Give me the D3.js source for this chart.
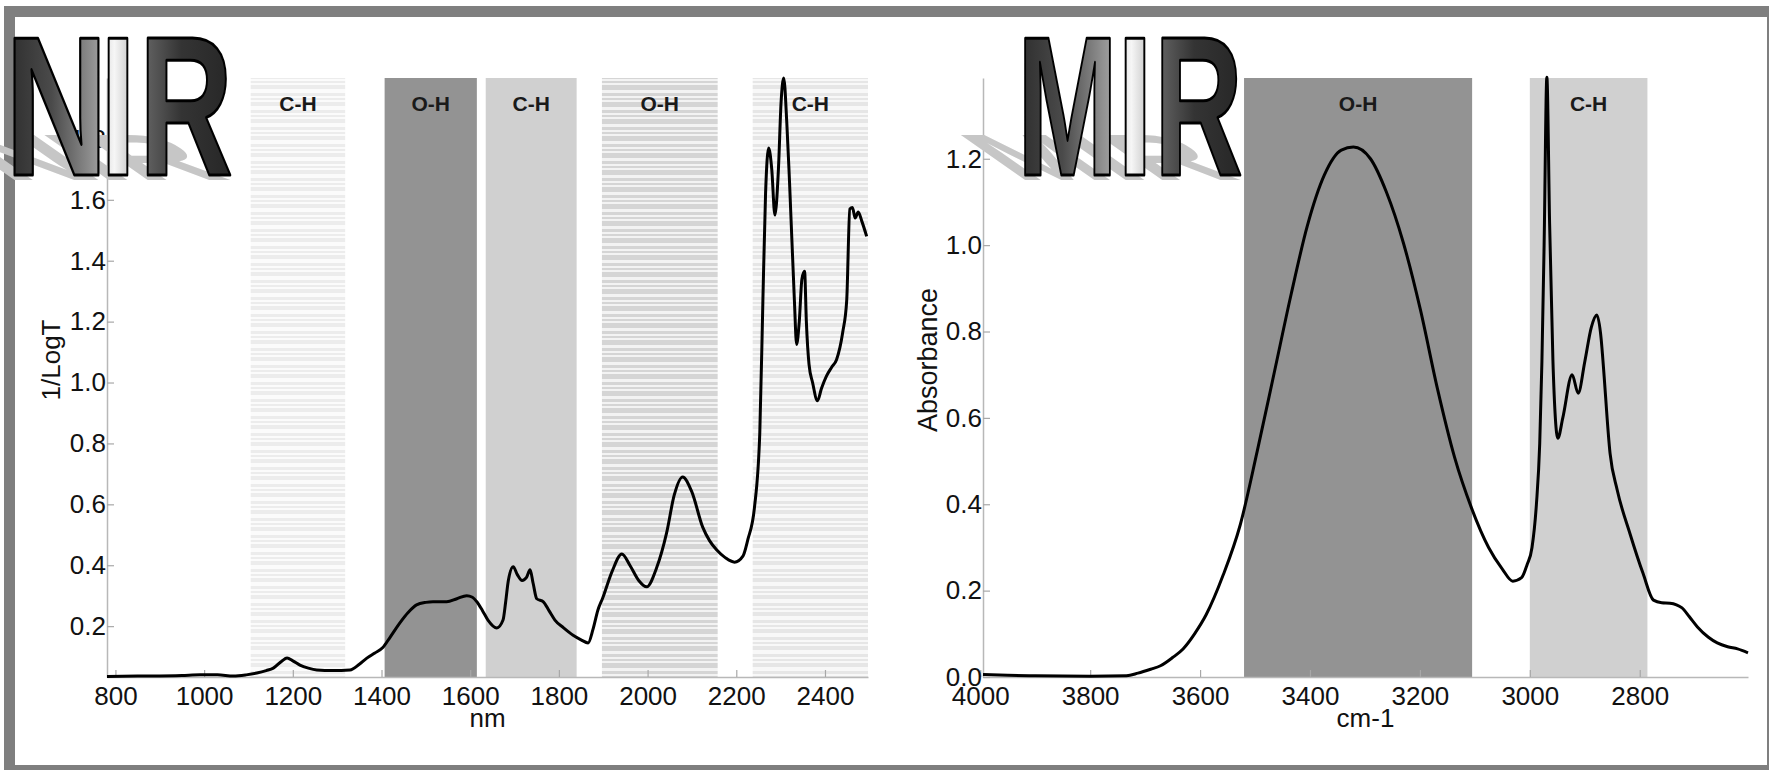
<!DOCTYPE html>
<html lang="en">
<head>
    <meta charset="UTF-8" />
    <title>NIR and MIR spectra</title>
    <script src="https://cdn.jsdelivr.net/npm/d3@7"></script>
    <style>
        body { margin: 0; background: #fff; }
        svg { display: block; }
        text { font-family: "Liberation Sans", Arial, sans-serif; }
    </style>
</head>
<body>
<div id="container"></div>
<script>
    // NIR spectrum (nm, 1/LogT)
    const nirNm = [781, 850, 950, 991, 1030, 1066, 1095, 1119, 1140, 1156, 1175, 1187, 1200, 1216, 1235, 1254, 1290, 1329,
        1350, 1367, 1385, 1403, 1420, 1441, 1460, 1479, 1500, 1516, 1547, 1570, 1592, 1605, 1615, 1628, 1640, 1660,
        1674, 1680, 1686, 1697, 1706, 1717, 1727, 1735, 1742, 1750, 1765, 1778, 1791, 1810, 1832, 1850, 1866, 1877,
        1888, 1899, 1920, 1942, 1960, 1980, 1998, 2020, 2043, 2060, 2079, 2100, 2124, 2140, 2156, 2175, 2196, 2215,
        2226, 2241, 2253, 2260, 2266, 2273, 2280, 2287, 2295, 2301, 2307, 2314, 2320, 2331, 2336, 2342, 2348, 2354,
        2358, 2364, 2372, 2383, 2392, 2403, 2415, 2426, 2440, 2449, 2456, 2462, 2468, 2475, 2483, 2494]
    const nirVal = [0.035, 0.036, 0.038, 0.040, 0.040, 0.036, 0.040, 0.046, 0.054, 0.062, 0.085, 0.095, 0.086, 0.072, 0.062, 0.056, 0.054, 0.056,
        0.075, 0.095, 0.112, 0.13, 0.165, 0.21, 0.245, 0.27, 0.278, 0.28, 0.28, 0.29, 0.30, 0.295, 0.28, 0.25, 0.22, 0.194,
        0.22, 0.28, 0.35, 0.395, 0.37, 0.35, 0.36, 0.385, 0.34, 0.29, 0.28, 0.25, 0.22, 0.195, 0.17, 0.155, 0.145, 0.19,
        0.253, 0.293, 0.38, 0.437, 0.40, 0.35, 0.329, 0.39, 0.507, 0.63, 0.69, 0.64, 0.526, 0.48, 0.45, 0.425, 0.41, 0.43,
        0.484, 0.59, 0.835, 1.27, 1.62, 1.77, 1.70, 1.55, 1.70, 1.92, 2.0, 1.85, 1.66, 1.27, 1.125, 1.20, 1.34, 1.365,
        1.20, 1.06, 1.00, 0.94, 0.98, 1.02, 1.05, 1.075, 1.165, 1.27, 1.57, 1.575, 1.54, 1.56, 1.53, 1.48]

    // MIR spectrum (cm-1, absorbance)
    const mirCm = [3995, 3950, 3900, 3800, 3734, 3713, 3690, 3672, 3650, 3631, 3610, 3589, 3558, 3527, 3496, 3465, 3434,
        3405, 3374, 3343, 3321, 3290, 3261, 3230, 3199, 3168, 3137, 3106, 3075, 3050, 3031, 3015, 3005, 2996, 2988,
        2982, 2978, 2974, 2969, 2964, 2958, 2949, 2940, 2923, 2912, 2900, 2888, 2878, 2870, 2867, 2854, 2841, 2818,
        2794, 2775, 2760, 2745, 2723, 2710, 2695, 2675, 2659, 2640, 2622, 2603]
    const mirAbs = [0.006, 0.004, 0.003, 0.002, 0.003, 0.009, 0.018, 0.026, 0.045, 0.065, 0.10, 0.144, 0.236, 0.352, 0.523, 0.705, 0.888,
        1.044, 1.162, 1.22, 1.227, 1.2, 1.123, 1.005, 0.85, 0.667, 0.509, 0.391, 0.30, 0.25, 0.222, 0.23, 0.26, 0.30, 0.40,
        0.54, 0.73, 1.0, 1.389, 1.05, 0.734, 0.553, 0.60, 0.70, 0.657, 0.73, 0.81, 0.838, 0.78, 0.734, 0.518, 0.433, 0.333,
        0.24, 0.178, 0.172, 0.171, 0.16, 0.14, 0.116, 0.092, 0.079, 0.07, 0.065, 0.056]

    // absorption bands
    const nirBandFrom = [1105, 1407, 1635, 1897, 2237]
    const nirBandTo = [1318, 1615, 1840, 2158, 2497]
    const nirBandLabel = ["C-H", "O-H", "C-H", "O-H", "C-H"]
    const mirBandFrom = [3520, 3000]
    const mirBandTo = [3105, 2786]
    const mirBandLabel = ["O-H", "C-H"]

    // ticks
    const nirXTicks = [800, 1000, 1200, 1400, 1600, 1800, 2000, 2200, 2400]
    const nirYTicks = [0.2, 0.4, 0.6, 0.8, 1.0, 1.2, 1.4, 1.6, 1.8]
    const mirXTicks = [4000, 3800, 3600, 3400, 3200, 3000, 2800]
    const mirYTicks = [0.0, 0.2, 0.4, 0.6, 0.8, 1.0, 1.2]

    const width = 1769
    const height = 770

    const svg = d3.select("#container")
        .append("svg")
        .attr("width", width)
        .attr("height", height)

    svg.append("rect").attr("width", width).attr("height", height).attr("fill", "#fff")

    const defs = svg.append("defs")

    // striped fills for the hatched bands
    function stripes(id, bg, fg, rows) {
        const p = defs.append("pattern")
            .attr("id", id)
            .attr("patternUnits", "userSpaceOnUse")
            .attr("width", 10)
            .attr("height", 17)
        p.append("rect").attr("width", 10).attr("height", 17).attr("fill", bg)
        rows.forEach(r => p.append("rect").attr("y", r[0]).attr("width", 10).attr("height", r[1]).attr("fill", fg))
    }
    stripes("hatchPale", "#fbfbfb", "#ececec", [[0, 4], [8, 3], [13, 2]])
    stripes("hatchMid", "#f3f3f3", "#d5d5d5", [[0, 5], [8, 3], [13, 2]])
    stripes("hatchSoft", "#f8f8f8", "#e6e6e6", [[0, 4], [8, 3], [13, 2]])

    const nirFills = ["url(#hatchPale)", "#939393", "#d0d0d0", "url(#hatchMid)", "url(#hatchSoft)"]
    const mirFills = ["#939393", "#d0d0d0"]

    // outer frame
    svg.append("rect")
        .attr("x", 9.5).attr("y", 11.5)
        .attr("width", 1763).attr("height", 759)
        .attr("fill", "none")
        .attr("stroke", "#7f7f7f")
        .attr("stroke-width", 11)

    const panels = [
        {
            x: d3.scaleLinear().domain([781, 2497]).range([107, 868]),
            y: d3.scaleLinear().domain([0.033, 2.0]).range([677, 78]),
            xs: nirNm, ys: nirVal,
            xTicks: nirXTicks, yTicks: nirYTicks,
            bandFrom: nirBandFrom, bandTo: nirBandTo, bandLabel: nirBandLabel, fills: nirFills,
            xTitle: "nm", yTitle: "1/LogT", yTitleX: 60, yTitleSize: 26
        },
        {
            x: d3.scaleLinear().domain([3995, 2603]).range([983, 1748]),
            y: d3.scaleLinear().domain([0, 1.387]).range([677, 78]),
            xs: mirCm, ys: mirAbs,
            xTicks: mirXTicks, yTicks: mirYTicks,
            bandFrom: mirBandFrom, bandTo: mirBandTo, bandLabel: mirBandLabel, fills: mirFills,
            xTitle: "cm-1", yTitle: "Absorbance", yTitleX: 937, yTitleSize: 27
        }
    ]

    panels.forEach(p => {
        const [x0, x1] = p.x.range()
        const [yBottom, yTop] = p.y.range()

        // bands
        const g = svg.append("g")
        g.selectAll("rect")
            .data(p.bandFrom)
            .join("rect")
            .attr("x", (d, i) => Math.min(p.x(d), p.x(p.bandTo[i])))
            .attr("width", (d, i) => Math.abs(p.x(p.bandTo[i]) - p.x(d)))
            .attr("y", yTop)
            .attr("height", yBottom - yTop)
            .attr("fill", (d, i) => p.fills[i])

        // axes
        const xAxis = svg.append("g")
            .attr("transform", `translate(0,${yBottom})`)
            .call(d3.axisBottom(p.x).tickValues(p.xTicks).tickSize(-7).tickSizeOuter(0).tickPadding(10)
                .tickFormat(d3.format("d")))
        const yAxis = svg.append("g")
            .attr("transform", `translate(${x0},0)`)
            .call(d3.axisLeft(p.y).tickValues(p.yTicks).tickSize(-7).tickSizeOuter(0).tickPadding(1)
                .tickFormat(d3.format(".1f")))

        ;[xAxis, yAxis].forEach(a => {
            a.select(".domain").attr("stroke", "#b8b8b8").attr("stroke-width", 1.5)
            a.selectAll(".tick line").attr("stroke", "#a8a8a8").attr("stroke-width", 1.2)
            a.selectAll(".tick text")
                .attr("fill", "#111")
                .style("font-size", "26px")
                .style("font-family", "\"Liberation Sans\", Arial, sans-serif")
        })

        // band labels
        g.selectAll("text")
            .data(p.bandLabel)
            .join("text")
            .attr("x", (d, i) => (p.x(p.bandFrom[i]) + p.x(p.bandTo[i])) / 2)
            .attr("y", 111)
            .attr("text-anchor", "middle")
            .attr("font-size", 21)
            .attr("font-weight", "bold")
            .attr("fill", "#1a1a1a")
            .text(d => d)

        // axis titles
        svg.append("text")
            .attr("x", (x0 + x1) / 2)
            .attr("y", 727)
            .attr("text-anchor", "middle")
            .attr("font-size", 26)
            .attr("fill", "#111")
            .text(p.xTitle)

        svg.append("text")
            .attr("transform", `translate(${p.yTitleX},360) rotate(-90)`)
            .attr("text-anchor", "middle")
            .attr("font-size", p.yTitleSize)
            .attr("fill", "#111")
            .text(p.yTitle)

        // spectrum
        const pts = p.xs.map((v, i) => [v, p.ys[i]])
        const line = d3.line()
            .x(d => p.x(d[0]))
            .y(d => p.y(d[1]))
            .curve(d3.curveMonotoneX)

        svg.append("path")
            .datum(pts)
            .attr("fill", "none")
            .attr("stroke", "#000")
            .attr("stroke-width", 3)
            .attr("stroke-linejoin", "round")
            .attr("d", line)
    })

    // big NIR / MIR logos with slanted shadow
    const gradients = {
        dark: [["0%", "#2c2c2c"], ["45%", "#4a4a4a"], ["100%", "#ababab"]],
        light: [["0%", "#d4d4d4"], ["40%", "#f6f6f6"], ["100%", "#bababa"]],
        deep: [["0%", "#6a6a6a"], ["45%", "#343434"], ["100%", "#262626"]]
    }
    Object.entries(gradients).forEach(([id, stops]) => {
        const lg = defs.append("linearGradient").attr("id", "g-" + id)
            .attr("x1", 0).attr("x2", 1).attr("y1", 0).attr("y2", 0)
        stops.forEach(s => lg.append("stop").attr("offset", s[0]).attr("stop-color", s[1]))
    })

    const logos = [
        [{ ch: "N", l: 13, r: 100, g: "dark" }, { ch: "I", l: 106, r: 130, g: "light" }, { ch: "R", l: 147, r: 225, g: "deep" }],
        [{ ch: "M", l: 1025, r: 1110, g: "dark" }, { ch: "I", l: 1123, r: 1147, g: "light" }, { ch: "R", l: 1162, r: 1235, g: "deep" }]
    ]
    const base = 175

    logos.forEach(letters => {
        const shadow = svg.append("g")
            .attr("transform", `translate(0,${base + 5}) skewX(55) scale(1,0.33) translate(0,${-base})`)
        const front = svg.append("g")
        ;[shadow, front].forEach((layer, k) => {
            letters.forEach(c => {
                const pad = c.ch === "I" ? 6 : 8
                const t = layer.append("text")
                    .attr("x", c.l - pad)
                    .attr("y", base)
                    .attr("textLength", c.r - c.l + 2 * pad)
                    .attr("lengthAdjust", "spacingAndGlyphs")
                    .attr("font-size", 198)
                    .attr("font-weight", "bold")
                    .text(c.ch)
                if (k === 0) {
                    t.attr("fill", "#c6c6c6")
                } else {
                    t.attr("fill", `url(#g-${c.g})`)
                        .attr("stroke", "#000")
                        .attr("stroke-width", 3)
                        .attr("stroke-linejoin", "round")
                }
            })
        })
    })
</script>
</body>
</html>
